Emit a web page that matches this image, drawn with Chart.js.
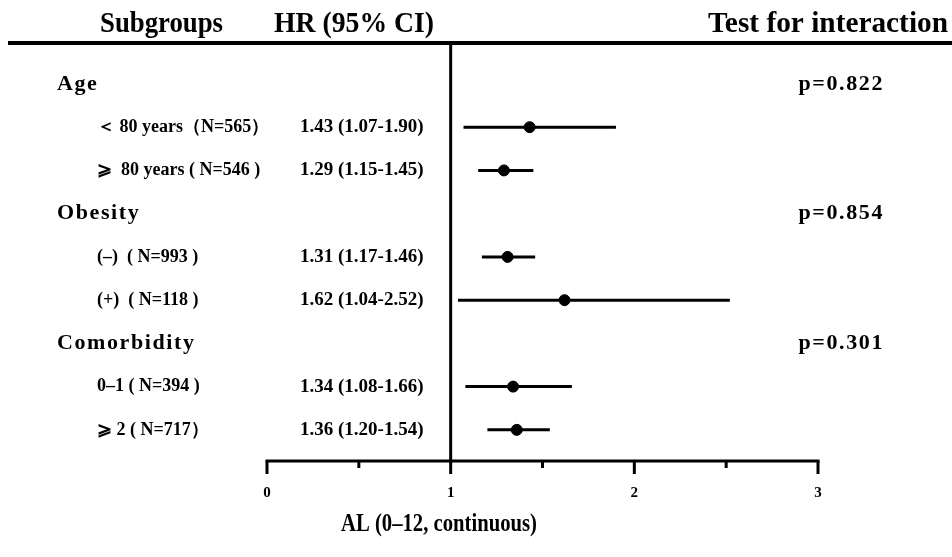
<!DOCTYPE html>
<html lang="en">
<head>
    <meta charset="UTF-8">
    <title>Forest plot</title>
    <script src="https://cdn.jsdelivr.net/npm/chart.js"></script>
    <style>
        body { margin: 0; background: #fff; }
    </style>
</head>
<body>
    <canvas id="forest" width="952" height="557"></canvas>

    <script>
        // groups and their interaction p-values
        const groups = ['Age', 'Obesity', 'Comorbidity'];
        const pValues = ['p=0.822', 'p=0.854', 'p=0.301'];

        // subgroup rows (two per group)
        const subgroups = [
            '\uFF1C 80 years\uFF08N=565\uFF09',
            '\u2A7E  80 years ( N=546 )',
            '(\u2013)  ( N=993 )',
            '(+)  ( N=118 )',
            '0\u20131 ( N=394 )',
            '\u2A7E 2 ( N=717\uFF09'
        ];
        const hr = [1.43, 1.29, 1.31, 1.62, 1.34, 1.36];
        const ciLow = [1.07, 1.15, 1.17, 1.04, 1.08, 1.20];
        const ciHigh = [1.90, 1.45, 1.46, 2.52, 1.66, 1.54];

        const xTicks = [0, 1, 2, 3];
        const xMinorTicks = [0.5, 1.5, 2.5];

        const serif = '"Liberation Serif", "Times New Roman", serif';

        // row index on the y axis: group header then its two subgroups
        const groupRow = groups.map((g, i) => i * 3);
        const subRow = subgroups.map((s, i) => Math.floor(i / 2) * 3 + 1 + (i % 2));

        const ciSets = subgroups.map((s, i) => ({
            type: 'line',
            data: [{ x: ciLow[i], y: subRow[i] }, { x: ciHigh[i], y: subRow[i] }],
            borderColor: '#000',
            borderWidth: 3,
            pointRadius: 0,
            showLine: true
        }));

        const pointSet = {
            type: 'scatter',
            data: hr.map((v, i) => ({ x: v, y: subRow[i] })),
            backgroundColor: '#000',
            borderColor: '#000',
            pointRadius: 5.5
        };

        // texts, reference line and axis
        const forestText = {
            id: 'forestText',
            afterDraw(chart) {
                const ctx = chart.ctx;
                const xs = chart.scales.x, ys = chart.scales.y;
                const area = chart.chartArea;
                ctx.save();
                ctx.fillStyle = '#000';
                ctx.strokeStyle = '#000';

                // header
                ctx.font = 'bold 30px ' + serif;
                ctx.textBaseline = 'middle';
                ctx.textAlign = 'left';
                ctx.fillText('Subgroups', 100, 24, 123);
                ctx.fillText('HR (95% CI)', 274, 24, 160);
                ctx.textAlign = 'right';
                ctx.fillText('Test for interaction', 948, 24, 240);

                ctx.lineWidth = 4;
                ctx.beginPath();
                ctx.moveTo(8, area.top - 2);
                ctx.lineTo(952, area.top - 2);
                ctx.stroke();

                // vertical line at HR = 1
                const x1 = xs.getPixelForValue(1);
                ctx.lineWidth = 3;
                ctx.beginPath();
                ctx.moveTo(x1, area.top);
                ctx.lineTo(x1, area.bottom);
                ctx.stroke();

                // group headers and p-values
                ctx.font = 'bold 22px ' + serif;
                ctx.letterSpacing = '1.6px';
                groups.forEach((g, i) => {
                    const y = ys.getPixelForValue(groupRow[i]);
                    ctx.textAlign = 'left';
                    ctx.fillText(g, 57, y);
                    ctx.textAlign = 'right';
                    ctx.fillText(pValues[i], 884, y);
                });
                ctx.letterSpacing = '0px';

                // subgroup labels and HR text
                ctx.font = 'bold 18px ' + serif;
                ctx.textAlign = 'left';
                subgroups.forEach((s, i) => {
                    const y = ys.getPixelForValue(subRow[i]);
                    ctx.fillText(s, 97, y);
                });
                ctx.font = 'bold 19px ' + serif;
                subgroups.forEach((s, i) => {
                    const y = ys.getPixelForValue(subRow[i]);
                    ctx.fillText(hr[i].toFixed(2) + ' (' + ciLow[i].toFixed(2) + '-' + ciHigh[i].toFixed(2) + ')', 300, y, 124);
                });

                // x axis
                const yb = area.bottom;
                ctx.lineWidth = 3;
                ctx.beginPath();
                ctx.moveTo(xs.getPixelForValue(0) - 1.5, yb);
                ctx.lineTo(xs.getPixelForValue(3) + 1.5, yb);
                ctx.stroke();
                xTicks.forEach(t => {
                    const px = xs.getPixelForValue(t);
                    ctx.beginPath();
                    ctx.moveTo(px, yb);
                    ctx.lineTo(px, yb + 13);
                    ctx.stroke();
                });
                xMinorTicks.forEach(t => {
                    const px = xs.getPixelForValue(t);
                    ctx.beginPath();
                    ctx.moveTo(px, yb);
                    ctx.lineTo(px, yb + 7);
                    ctx.stroke();
                });
                ctx.font = 'bold 15px ' + serif;
                ctx.textAlign = 'center';
                xTicks.forEach(t => {
                    ctx.fillText(String(t), xs.getPixelForValue(t), yb + 32);
                });

                ctx.font = 'bold 25px ' + serif;
                ctx.fillText('AL (0\u201312, continuous)', 439, 525, 196);
                ctx.restore();
            }
        };

        new Chart(document.getElementById('forest'), {
            type: 'scatter',
            data: { datasets: [...ciSets, pointSet] },
            options: {
                responsive: false,
                animation: false,
                layout: { padding: { left: 267, right: 134, top: 45, bottom: 96 } },
                plugins: { legend: { display: false }, tooltip: { enabled: false } },
                scales: {
                    x: { type: 'linear', min: 0, max: 3, display: false },
                    y: { type: 'linear', min: -0.9, max: 8.72, reverse: true, display: false }
                }
            },
            plugins: [forestText]
        });
    </script>
</body>
</html>
